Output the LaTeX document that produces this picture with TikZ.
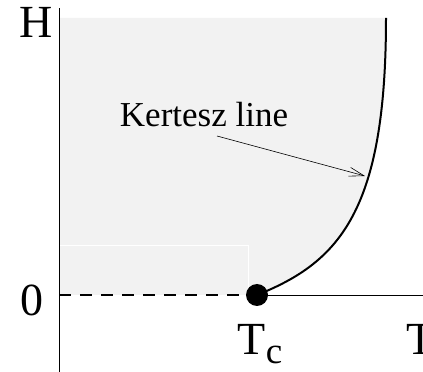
\documentclass[tikz,border=0pt]{standalone}
\usepackage{fontspec}
\setmainfont{Liberation Serif}
\usetikzlibrary{arrows.meta}
\definecolor{phasegray}{gray}{0.95}
\tikzset{
  axlabel/.style={font=\fontsize{46}{54}\selectfont, anchor=base},
  thinline/.style={line width=0.8pt},
  thickline/.style={line width=2pt}
}
\begin{document}
\begin{tikzpicture}[x=1pt, y=1pt, every node/.style={inner sep=0pt}]
  \useasboundingbox (0,0) rectangle (423,372);
  % shaded region left of the line
  \fill[phasegray] (60,77) -- (60,354) -- (386,354) .. controls (386,162) and (340,110) .. (257,77) -- cycle;
  \draw[white, line width=0.8pt] (60,127) -- (248,127) -- (248,77);
  % axes
  \coordinate (O) at (59,77);
  \coordinate (Hbot) at (59,0);
  \coordinate (Htop) at (59,364);
  \coordinate (Tend) at (423,77);
  \coordinate (top) at (386,354);
  \node[circle, fill, minimum size=22pt] (Tc) at (257,77) {};
  \draw[thinline] (Hbot) -- (Htop);
  \draw[thickline, dash pattern=on 12pt off 9pt] (O) -- (Tc);
  \draw[thinline] (Tc) -- (Tend);
  \draw[thickline] (Tc.center) .. controls (340,110) and (386,162) .. (top);
  % labels
  \node[axlabel] (Hlab) at (36.5,334) {H};
  \node[axlabel] (zero) at (31.5,56) {0};
  \node[axlabel] (Tclab) at (260,17) {T\raisebox{-9pt}{\fontsize{37}{44}\selectfont c}};
  \node[axlabel] (Tlab) at (421,17) {T};
  \node[font=\fontsize{35}{42}\selectfont, anchor=base] (kertesz) at (204,245) {Kertesz line};
  \coordinate (kstart) at (217,236);
  \coordinate (kend) at (365,196);
  \draw[-{Straight Barb[length=15pt,width=9pt]}, line width=0.6pt] (kstart) -- (kend);
\end{tikzpicture}
\end{document}
